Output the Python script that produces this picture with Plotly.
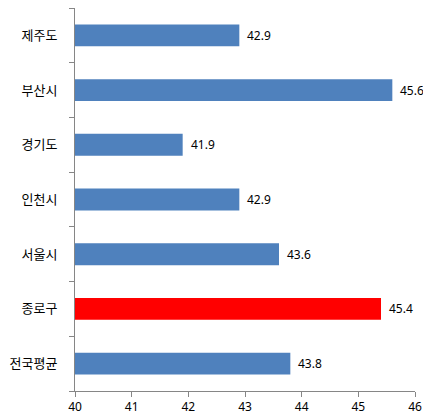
import plotly.graph_objects as go

categories = ["제주도", "부산시", "경기도", "인천시", "서울시", "종로구", "전국평균"]
values = [42.9, 45.6, 41.9, 42.9, 43.6, 45.4, 43.8]
highlight = "종로구"
x_ticks = [40, 41, 42, 43, 44, 45, 46]

colors = ["#FF0000" if c == highlight else "#4F81BD" for c in categories]

fig = go.Figure(go.Bar(
    y=categories,
    x=values,
    orientation="h",
    marker=dict(color=colors, line=dict(width=0)),
    width=0.4,
    cliponaxis=False,
    hoverinfo="x+y",
))

for c, v in zip(categories, values):
    fig.add_annotation(
        x=v, y=c, text=f"{v:.1f}", showarrow=False,
        xanchor="left", yanchor="middle", xshift=6,
        font=dict(family="Noto Sans, DejaVu Sans", size=12, color="#000000"),
    )

# page body has an 8px margin; compensate so plot area sits where the reference's does
fig.update_layout(
    width=423, height=411,
    margin=dict(l=67, r=16, t=0, b=28, autoexpand=False),
    paper_bgcolor="white", plot_bgcolor="white",
    showlegend=False,
    font=dict(family="Noto Sans CJK KR", size=13, color="#000000"),
)
fig.update_xaxes(
    range=[40, 46], tickvals=x_ticks, ticktext=[str(t) for t in x_ticks],
    showgrid=False, zeroline=False,
    showline=True, linecolor="#868686", linewidth=1,
    ticks="outside", ticklen=5, tickcolor="#868686",
    tickfont=dict(family="Noto Sans, DejaVu Sans", size=12),
    automargin=False,
)
fig.update_yaxes(
    categoryorder="array", categoryarray=categories[::-1],
    autorange=False, range=[-0.5, len(categories) - 0.5],
    showgrid=False, zeroline=False,
    showline=True, linecolor="#868686", linewidth=1,
    ticks="outside", ticklen=5, tickcolor="#868686", tickson="boundaries",
    tickfont=dict(family="Noto Sans CJK KR", size=13),
    ticklabelstandoff=14,
    automargin=False,
)

fig.write_html("out.html")
